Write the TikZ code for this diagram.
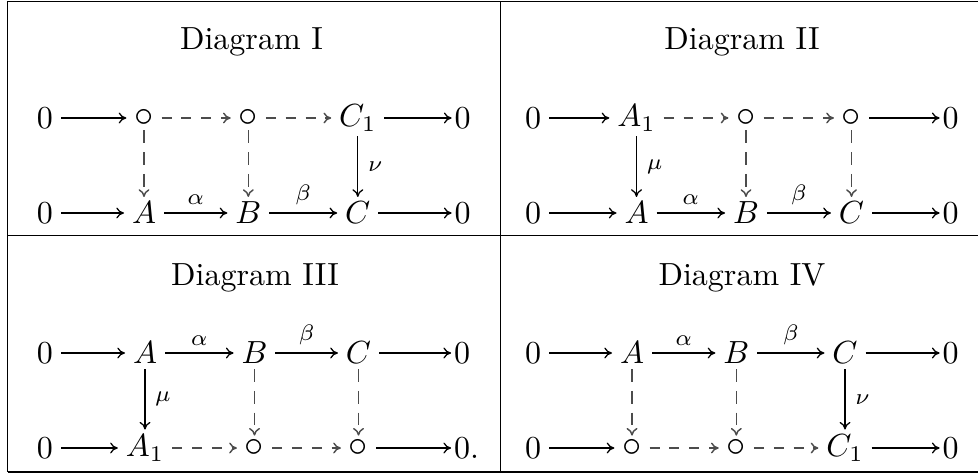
\documentclass[tikz,border=0pt]{standalone}
\usepackage{graphicx}
\usetikzlibrary{arrows.meta}
\newcommand{\smallcirc}{\scalebox{1.2}{$\circ$}}
\begin{document}
\begin{tikzpicture}[x=0.3125pt,y=-0.3125pt,
  >={Computer Modern Rightarrow[length=2.4pt,width=3.4pt]},
  obj/.style={inner xsep=2.5pt,inner ysep=1.6pt,outer sep=0pt},
  cobj/.style={obj,inner ysep=1.2pt},
  ar/.style={->,line width=0.4pt},
  dar/.style={->,line width=0.45pt,draw=black!70},
  dh/.style={dar,dash pattern=on 3.1pt off 3.1pt},
  dv/.style={dar,dash pattern=on 4pt off 2.8pt},
  tolast/.style={shorten >=-1.6pt},
  hlab/.style={midway,above,inner sep=2.3pt},
  vlab/.style={midway,right,inner sep=3pt},
  frame/.style={line width=0.4pt},
  title/.style={anchor=base,inner sep=0pt}]
\useasboundingbox (0,0) rectangle (978,474);
% table frame
\draw[frame] (7.5,1.5) -- (978,1.5);
\draw[frame] (7.5,235.5) -- (978,235.5);
\draw[frame] (7.5,472) -- (978,472);
\draw[frame] (7.5,1.5) -- (7.5,472);
\draw[frame] (500.5,1.5) -- (500.5,472);
% titles
\node[title] (tI) at (251.5,50) {Diagram I};
\node[title] (tII) at (742,50) {Diagram II};
\node[title] (tIII) at (255,285) {Diagram III};
\node[title] (tIV) at (742,285) {Diagram IV};
% ---------- Diagram I ----------
\node[obj] (Ia0) at (45,118) {$0$};
\node[cobj] (Ia1) at (144,118) {\smallcirc};
\node[cobj] (Ia2) at (248.3,118) {\smallcirc};
\node[obj] (Ia3) at (357.8,118) {$C_1$};
\node[obj] (Ia4) at (462.5,118) {$0$};
\node[obj] (Ib0) at (45,213) {$0$};
\node[obj] (Ib1) at (144,213) {$A$};
\node[obj] (Ib2) at (248.3,213) {$B$};
\node[obj] (Ib3) at (357.8,213) {$C$};
\node[obj] (Ib4) at (462.5,213) {$0$};
\draw[ar] (Ia0) -- (Ia1);
\draw[dh] (Ia1) -- (Ia2);
\draw[dh] (Ia2) -- (Ia3);
\draw[ar,tolast] (Ia3) -- (Ia4);
\draw[dv] (Ia1) -- (Ib1);
\draw[dv] (Ia2) -- (Ib2);
\draw[ar] (Ia3) -- node[vlab] {$\scriptstyle\nu$} (Ib3);
\draw[ar] (Ib0) -- (Ib1);
\draw[ar] (Ib1) -- node[hlab] {$\scriptstyle\alpha$} (Ib2);
\draw[ar] (Ib2) -- node[hlab] {$\scriptstyle\beta$} (Ib3);
\draw[ar,tolast] (Ib3) -- (Ib4);
% ---------- Diagram II ----------
\node[obj] (IIa0) at (533,118) {$0$};
\node[obj] (IIa1) at (636.5,118) {$A_1$};
\node[cobj] (IIa2) at (746,118) {\smallcirc};
\node[cobj] (IIa3) at (851.5,118) {\smallcirc};
\node[obj] (IIa4) at (950.5,118) {$0$};
\node[obj] (IIb0) at (533,213) {$0$};
\node[obj] (IIb1) at (636.5,213) {$A$};
\node[obj] (IIb2) at (746,213) {$B$};
\node[obj] (IIb3) at (851.5,213) {$C$};
\node[obj] (IIb4) at (950.5,213) {$0$};
\draw[ar] (IIa0) -- (IIa1);
\draw[dh] (IIa1) -- (IIa2);
\draw[dh] (IIa2) -- (IIa3);
\draw[ar,tolast] (IIa3) -- (IIa4);
\draw[ar] (IIa1) -- node[vlab] {$\scriptstyle\mu$} (IIb1);
\draw[dv] (IIa2) -- (IIb2);
\draw[dv] (IIa3) -- (IIb3);
\draw[ar] (IIb0) -- (IIb1);
\draw[ar] (IIb1) -- node[hlab] {$\scriptstyle\alpha$} (IIb2);
\draw[ar] (IIb2) -- node[hlab] {$\scriptstyle\beta$} (IIb3);
\draw[ar,tolast] (IIb3) -- (IIb4);
% ---------- Diagram III ----------
\node[obj] (IIIa0) at (45,353) {$0$};
\node[obj] (IIIa1) at (145,353) {$A$};
\node[obj] (IIIa2) at (254.5,353) {$B$};
\node[obj] (IIIa3) at (358.5,353) {$C$};
\node[obj] (IIIa4) at (462,353) {$0$};
\node[obj] (IIIb0) at (45,448) {$0$};
\node[obj] (IIIb1) at (145,448) {$A_1$};
\node[cobj] (IIIb2) at (254.5,448) {\smallcirc};
\node[cobj] (IIIb3) at (358.5,448) {\smallcirc};
\node[obj] (IIIb4) at (462,448) {$0\rlap{.}$};
\draw[ar] (IIIa0) -- (IIIa1);
\draw[ar] (IIIa1) -- node[hlab] {$\scriptstyle\alpha$} (IIIa2);
\draw[ar] (IIIa2) -- node[hlab] {$\scriptstyle\beta$} (IIIa3);
\draw[ar,tolast] (IIIa3) -- (IIIa4);
\draw[ar] (IIIa1) -- node[vlab] {$\scriptstyle\mu$} (IIIb1);
\draw[dv] (IIIa2) -- (IIIb2);
\draw[dv] (IIIa3) -- (IIIb3);
\draw[ar] (IIIb0) -- (IIIb1);
\draw[dh] (IIIb1) -- (IIIb2);
\draw[dh] (IIIb2) -- (IIIb3);
\draw[ar,tolast] (IIIb3) -- (IIIb4);
% ---------- Diagram IV ----------
\node[obj] (IVa0) at (533,353) {$0$};
\node[obj] (IVa1) at (632,353) {$A$};
\node[obj] (IVa2) at (736.3,353) {$B$};
\node[obj] (IVa3) at (845,353) {$C$};
\node[obj] (IVa4) at (950.5,353) {$0$};
\node[obj] (IVb0) at (533,448) {$0$};
\node[cobj] (IVb1) at (632,448) {\smallcirc};
\node[cobj] (IVb2) at (736.3,448) {\smallcirc};
\node[obj] (IVb3) at (845,448) {$C_1$};
\node[obj] (IVb4) at (950.5,448) {$0$};
\draw[ar] (IVa0) -- (IVa1);
\draw[ar] (IVa1) -- node[hlab] {$\scriptstyle\alpha$} (IVa2);
\draw[ar] (IVa2) -- node[hlab] {$\scriptstyle\beta$} (IVa3);
\draw[ar,tolast] (IVa3) -- (IVa4);
\draw[dv] (IVa1) -- (IVb1);
\draw[dv] (IVa2) -- (IVb2);
\draw[ar] (IVa3) -- node[vlab] {$\scriptstyle\nu$} (IVb3);
\draw[ar] (IVb0) -- (IVb1);
\draw[dh] (IVb1) -- (IVb2);
\draw[dh] (IVb2) -- (IVb3);
\draw[ar,tolast] (IVb3) -- (IVb4);
\end{tikzpicture}
\end{document}
